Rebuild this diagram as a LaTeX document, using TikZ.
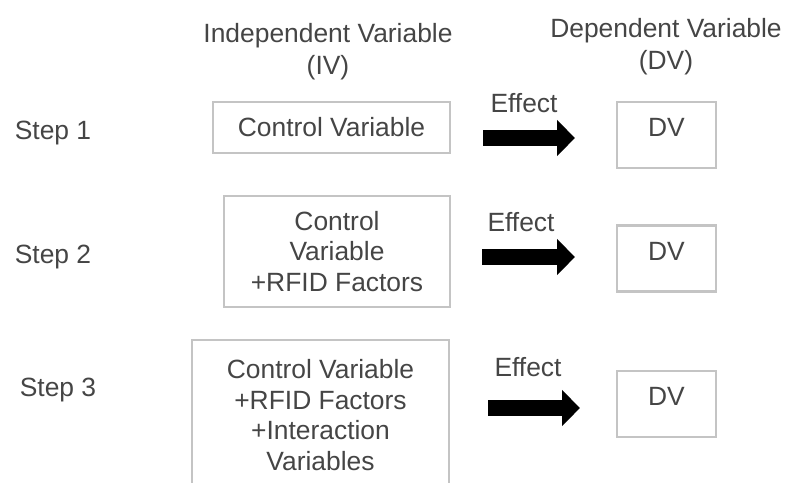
\documentclass[tikz,border=0pt]{standalone}
\usepackage{fontspec}
\setmainfont{Liberation Sans}
\usetikzlibrary{arrows.meta}

\definecolor{txt}{HTML}{454545}
\definecolor{frame}{HTML}{C4C4C4}

\tikzset{
  lbl/.style={text=txt, inner sep=0pt, font=\fontsize{13.2}{15.5}\selectfont},
  ivbox/.style={draw=frame, line width=1.1pt, text=txt, align=center,
    inner sep=0pt, font=\fontsize{13.2}{15.4}\selectfont},
  dvbox/.style={draw=frame, line width=1.1pt, text=txt, inner sep=0pt,
    minimum width=49.5pt, minimum height=33pt,
    text height=9.5pt, text depth=8pt, font=\fontsize{13.2}{15.5}\selectfont},
  effect/.style={line width=8pt, draw=black,
    -{Triangle[length=9pt,width=17.5pt]}},
}

\begin{document}
\begin{tikzpicture}[x=0.5pt, y=-0.5pt]
  \useasboundingbox (0,0) rectangle (785,482);
  \clip (0,0) rectangle (785,482);

  % column headings
  \node[lbl, align=center, font=\fontsize{13.2}{16}\selectfont] (hiv) at (328,52)
    {Independent Variable\\(IV)};
  \node[lbl, align=center, font=\fontsize{13.2}{16}\selectfont] (hdv) at (666,47)
    {Dependent Variable\\(DV)};

  % step labels
  \node[lbl] (s1) at (53,133) {Step 1};
  \node[lbl] (s2) at (53,257) {Step 2};
  \node[lbl] (s3) at (58,390) {Step 3};

  % independent variable boxes
  \node[ivbox, minimum width=118.5pt, minimum height=25.5pt] (iv1) at (331.5,127.5)
    {Control Variable};
  \node[ivbox, minimum width=113pt, minimum height=55.5pt] (iv2) at (337,251.5)
    {Control\\Variable\\+RFID Factors};
  \node[ivbox, minimum width=128.5pt, minimum height=75pt] (iv3) at (320.5,415)
    {Control Variable\\+RFID Factors\\+Interaction\\Variables};

  % dependent variable boxes
  \node[dvbox] (dv1) at (666.5,135) {DV};
  \node[dvbox] (dv2) at (666.5,258.5) {DV};
  \node[dvbox] (dv3) at (666.5,404) {DV};

  % effect labels
  \node[lbl] (e1) at (524,103) {Effect};
  \node[lbl] (e2) at (521,222) {Effect};
  \node[lbl] (e3) at (528,367) {Effect};

  % effect arrows
  \coordinate (a1s) at (483,138);
  \coordinate (a1e) at (575,138);
  \coordinate (a2s) at (482,257);
  \coordinate (a2e) at (575,257);
  \coordinate (a3s) at (488,408);
  \coordinate (a3e) at (580,408);
  \draw[effect] (a1s) -- (a1e);
  \draw[effect] (a2s) -- (a2e);
  \draw[effect] (a3s) -- (a3e);
\end{tikzpicture}
\end{document}
